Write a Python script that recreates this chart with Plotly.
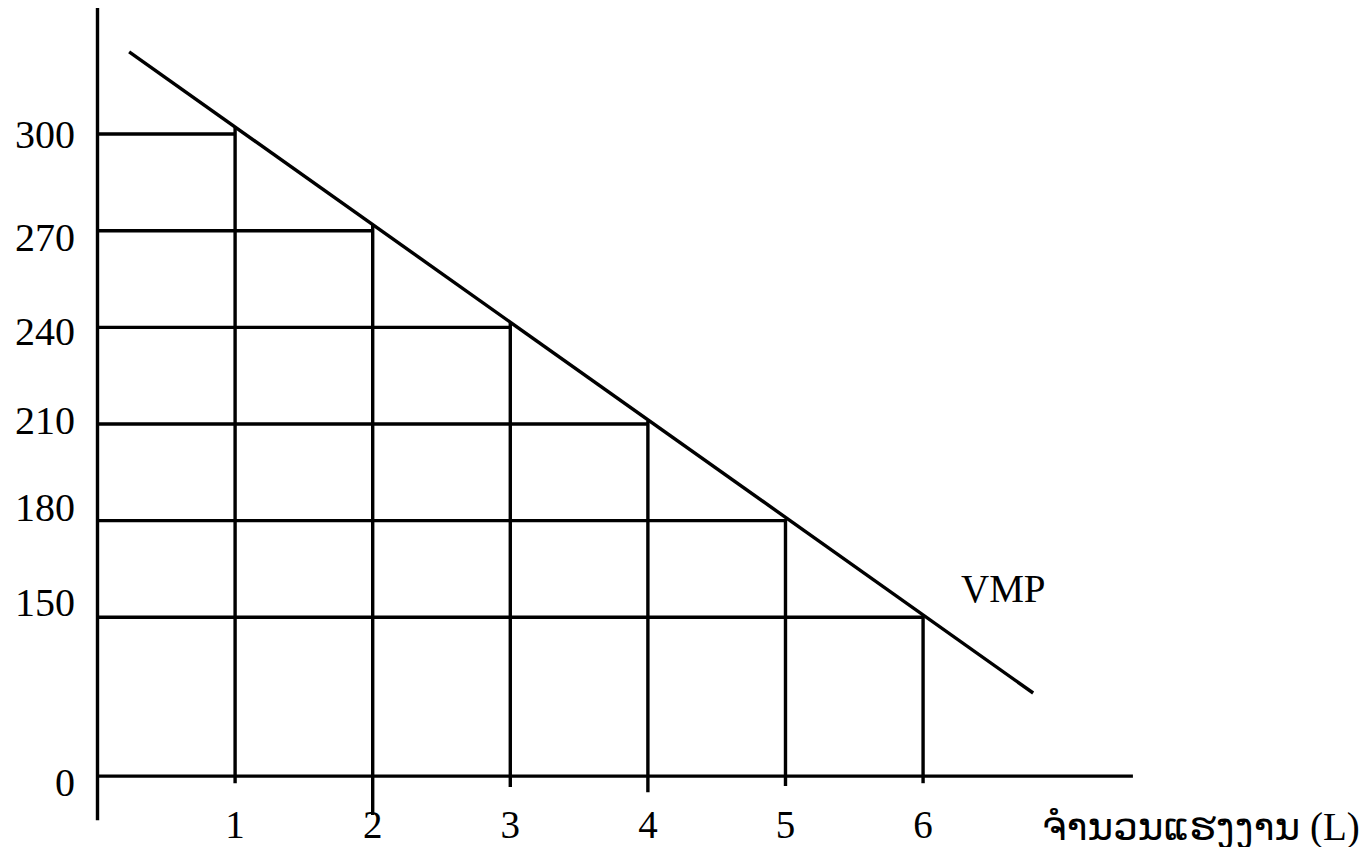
import plotly.graph_objects as go

# ---- data ----
LABOUR = [1, 2, 3, 4, 5, 6]                       # quantity of labour (L)
VMP_LEVEL = [300, 270, 240, 210, 180, 150]        # value of marginal product at each L
V_TOP = [302, 272, 241.5, 211, 180.5, 150.5]      # where each vertical guide meets VMP
V_BOTTOM = [98.5, 88.6, 97.3, 95.7, 97.6, 98.5]   # where each vertical guide ends below axis
VMP_X = [0.23, 6.8]                               # VMP line, start/end L
VMP_Y = [325.5, 126.5]                            # VMP line, start/end value
X_TICKS = [1, 2, 3, 4, 5, 6]
X_TICK_TEXT = ["1", "2", "3", "4", "5", "6"]
Y_TICK_TEXT = ["0", "150", "180", "210", "240", "270", "300"]
X_TITLE = "ຈຳນວນແຮງງານ (L)"
CURVE_LABEL = "VMP"

# ---- layout constants (broken vertical axis: "0" drawn at Y_ZERO_POS) ----
Y_ZERO_POS = 100.7
X_RANGE = [-0.7086, 9.248]
Y_RANGE = [78.7, 341.6]
Y_AXIS_TOP, Y_AXIS_BOTTOM = 339.1, 87.0
X_AXIS_END = 7.525
Y_LABEL_SHIFT = [-6, 15, 13, 3, -4, -7, 0]   # px, vertical nudges of the y labels
FONT = "Liberation Serif, Times New Roman, DejaVu Serif, DejaVu Sans, serif"
LW = 3.4

fig = go.Figure()

# axes drawn as lines
fig.add_trace(go.Scatter(x=[0, 0], y=[Y_AXIS_TOP, Y_AXIS_BOTTOM], mode="lines",
                         line=dict(color="black", width=LW), hoverinfo="skip"))
fig.add_trace(go.Scatter(x=[0, X_AXIS_END], y=[Y_ZERO_POS, Y_ZERO_POS], mode="lines",
                         line=dict(color="black", width=LW), hoverinfo="skip"))

# horizontal guides
hx, hy = [], []
for L, v in zip(LABOUR, VMP_LEVEL):
    hx += [0, L, None]
    hy += [v, v, None]
fig.add_trace(go.Scatter(x=hx, y=hy, mode="lines",
                         line=dict(color="black", width=LW), hoverinfo="skip"))

# vertical guides
vx, vy = [], []
for L, t, b in zip(LABOUR, V_TOP, V_BOTTOM):
    vx += [L, L, None]
    vy += [b, t, None]
fig.add_trace(go.Scatter(x=vx, y=vy, mode="lines",
                         line=dict(color="black", width=LW), hoverinfo="skip"))

# VMP curve
fig.add_trace(go.Scatter(x=VMP_X, y=VMP_Y, mode="lines", name="VMP",
                         line=dict(color="black", width=LW)))

ann = []
y_vals = [Y_ZERO_POS] + sorted(VMP_LEVEL)
for v, t, s in zip(y_vals, Y_TICK_TEXT, Y_LABEL_SHIFT):
    ann.append(dict(x=0, y=v, xref="x", yref="y", text=t, showarrow=False,
                    xanchor="right", yanchor="middle", xshift=-21, yshift=s,
                    font=dict(family=FONT, size=40, color="black")))
ann.append(dict(x=6.585, y=159, xref="x", yref="y", text=CURVE_LABEL, showarrow=False,
                xanchor="center", yanchor="middle",
                font=dict(family=FONT, size=39, color="black")))
ann.append(dict(x=9.19, y=85.0, xref="x", yref="y", text=X_TITLE, showarrow=False,
                xanchor="right", yanchor="middle",
                font=dict(family=FONT, size=39, color="black")))

fig.update_layout(
    width=1370, height=847,
    margin=dict(l=0, r=0, t=0, b=0, autoexpand=False),
    paper_bgcolor="white", plot_bgcolor="white",
    showlegend=False,
    annotations=ann,
    xaxis=dict(range=X_RANGE, showgrid=False, zeroline=False, showline=False,
               tickvals=X_TICKS, ticktext=X_TICK_TEXT, ticks="",
               tickfont=dict(family=FONT, size=39, color="black"),
               anchor="free", position=(847 - 776) / 847, ticklabelstandoff=22,
               automargin=False),
    yaxis=dict(range=Y_RANGE, showgrid=False, zeroline=False, showline=False,
               showticklabels=False),
)

fig.write_html("out.html", config={"displayModeBar": False},
               post_script="document.body.style.margin='0';document.body.style.overflow='hidden';")
